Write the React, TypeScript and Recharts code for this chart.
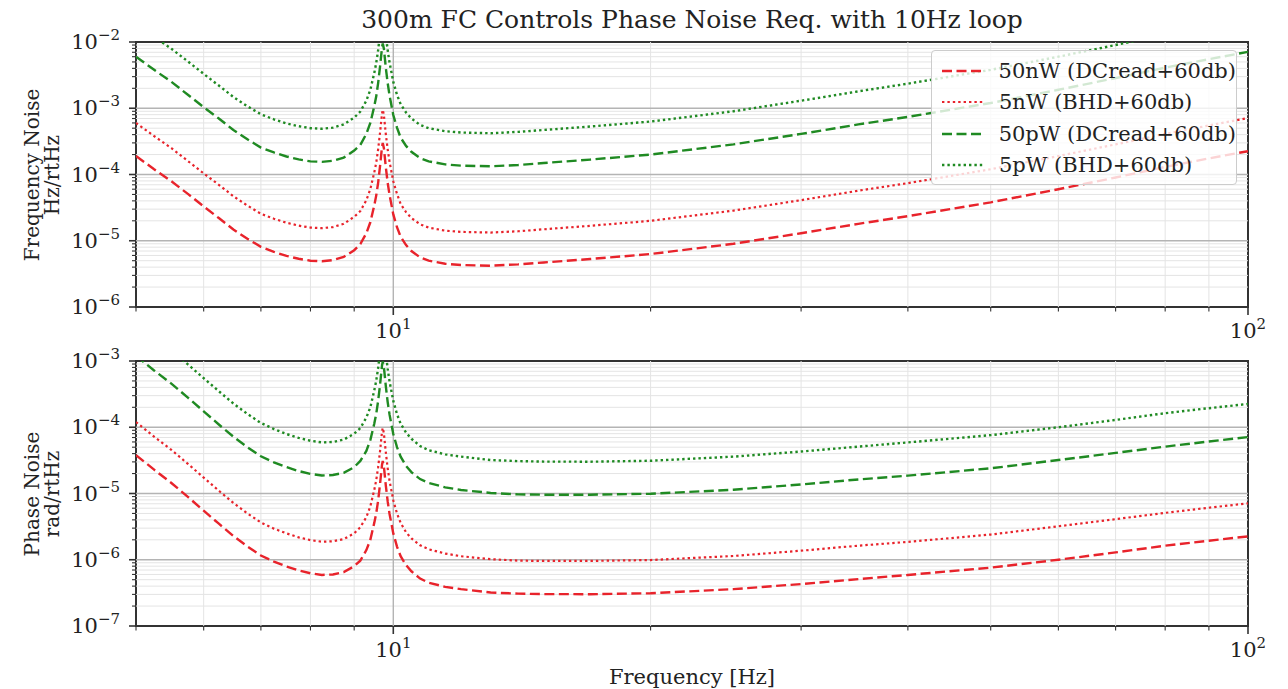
import { LineChart, Line, XAxis, YAxis, ReferenceLine, ReferenceArea, Legend } from 'recharts'

const FONT = "'DejaVu Serif', serif"
const RED = '#e8232b'
const GREEN = '#1f8a22'

// frequency points [Hz]
const freq = [
  5, 5.25, 5.5, 5.75, 6, 6.25, 6.5, 6.75, 7, 7.25,
  7.5, 7.75, 8, 8.25, 8.5, 8.75, 9, 9.15, 9.3, 9.4,
  9.5, 9.55, 9.6, 9.65, 9.7, 9.72, 9.75, 9.8, 9.85, 9.9,
  10, 10.1, 10.2, 10.35, 10.5, 10.75, 11, 11.5, 12, 13,
  14, 15, 17, 20, 25, 30, 35, 40, 50, 60,
  70, 80, 90, 100
]

// frequency noise [Hz/rtHz]
const fn50nW = [
  1.9e-4, 1.2e-4, 7.9e-5, 5.1e-5, 3.3e-5, 2.2e-5, 1.48e-5, 1.07e-5, 8.1e-6, 6.8e-6,
  5.9e-6, 5.35e-6, 5.0e-6, 4.9e-6, 5.1e-6, 5.7e-6, 7.2e-6, 8.9e-6, 1.3e-5, 1.9e-5,
  3.4e-5, 4.8e-5, 7.5e-5, 1.35e-4, 2.6e-4, 3.0e-4, 2.5e-4, 1.3e-4, 7.5e-5, 4.9e-5,
  2.5e-5, 1.6e-5, 1.15e-5, 8.6e-6, 7.0e-6, 5.6e-6, 5.0e-6, 4.5e-6, 4.3e-6, 4.2e-6,
  4.4e-6, 4.7e-6, 5.3e-6, 6.3e-6, 9.0e-6, 1.3e-5, 1.8e-5, 2.35e-5, 3.8e-5, 6.0e-5,
  9.0e-5, 1.3e-4, 1.75e-4, 2.25e-4
]
const fn5nW = [
  6.0e-4, 3.8e-4, 2.5e-4, 1.6e-4, 1.04e-4, 7.0e-5, 4.7e-5, 3.4e-5, 2.55e-5, 2.15e-5,
  1.87e-5, 1.69e-5, 1.58e-5, 1.55e-5, 1.61e-5, 1.8e-5, 2.3e-5, 2.8e-5, 4.1e-5, 6.0e-5,
  1.07e-4, 1.5e-4, 2.4e-4, 4.3e-4, 8.2e-4, 9.5e-4, 7.9e-4, 4.1e-4, 2.4e-4, 1.55e-4,
  7.9e-5, 5.1e-5, 3.6e-5, 2.7e-5, 2.2e-5, 1.77e-5, 1.58e-5, 1.42e-5, 1.36e-5, 1.33e-5,
  1.39e-5, 1.49e-5, 1.68e-5, 2.0e-5, 2.85e-5, 4.1e-5, 5.7e-5, 7.4e-5, 1.2e-4, 1.9e-4,
  2.85e-4, 4.1e-4, 5.5e-4, 7.1e-4
]
const fn50pW = [
  6.0e-3, 3.8e-3, 2.5e-3, 1.6e-3, 1.04e-3, 7.0e-4, 4.7e-4, 3.4e-4, 2.55e-4, 2.15e-4,
  1.87e-4, 1.69e-4, 1.58e-4, 1.55e-4, 1.61e-4, 1.8e-4, 2.3e-4, 2.8e-4, 4.1e-4, 6.0e-4,
  1.07e-3, 1.5e-3, 2.4e-3, 4.3e-3, 8.2e-3, 9.5e-3, 7.9e-3, 4.1e-3, 2.4e-3, 1.55e-3,
  7.9e-4, 5.1e-4, 3.6e-4, 2.7e-4, 2.2e-4, 1.77e-4, 1.58e-4, 1.42e-4, 1.36e-4, 1.33e-4,
  1.39e-4, 1.49e-4, 1.68e-4, 2.0e-4, 2.85e-4, 4.1e-4, 5.7e-4, 7.4e-4, 1.2e-3, 1.9e-3,
  2.85e-3, 4.1e-3, 5.5e-3, 7.1e-3
]
const fn5pW = [
  1.9e-2, 1.2e-2, 7.9e-3, 5.1e-3, 3.3e-3, 2.2e-3, 1.48e-3, 1.07e-3, 8.1e-4, 6.8e-4,
  5.9e-4, 5.35e-4, 5.0e-4, 4.9e-4, 5.1e-4, 5.7e-4, 7.2e-4, 8.9e-4, 1.3e-3, 1.9e-3,
  3.4e-3, 4.8e-3, 7.5e-3, 1.35e-2, 2.6e-2, 3.0e-2, 2.5e-2, 1.3e-2, 7.5e-3, 4.9e-3,
  2.5e-3, 1.6e-3, 1.15e-3, 8.6e-4, 7.0e-4, 5.6e-4, 5.0e-4, 4.5e-4, 4.3e-4, 4.2e-4,
  4.4e-4, 4.7e-4, 5.3e-4, 6.3e-4, 9.0e-4, 1.3e-3, 1.8e-3, 2.35e-3, 3.8e-3, 6.0e-3,
  9.0e-3, 1.3e-2, 1.75e-2, 2.25e-2
]

// phase noise [rad/rtHz]
const pn50nW = [
  3.8e-5, 2.29e-5, 1.44e-5, 8.9e-6, 5.5e-6, 3.5e-6, 2.28e-6, 1.59e-6, 1.16e-6, 9.4e-7,
  7.9e-7, 6.9e-7, 6.25e-7, 5.9e-7, 6.0e-7, 6.5e-7, 8.0e-7, 9.7e-7, 1.4e-6, 2.0e-6,
  3.6e-6, 5.0e-6, 7.8e-6, 1.4e-5, 2.7e-5, 3.1e-5, 2.56e-5, 1.33e-5, 7.6e-6, 4.9e-6,
  2.5e-6, 1.58e-6, 1.13e-6, 8.3e-7, 6.7e-7, 5.2e-7, 4.5e-7, 3.9e-7, 3.6e-7, 3.2e-7,
  3.08e-7, 3.03e-7, 3.02e-7, 3.12e-7, 3.6e-7, 4.3e-7, 5.1e-7, 5.9e-7, 7.6e-7, 1.0e-6,
  1.29e-6, 1.63e-6, 1.94e-6, 2.25e-6
]
const pn5nW = [
  1.2e-4, 7.2e-5, 4.55e-5, 2.8e-5, 1.74e-5, 1.1e-5, 7.2e-6, 5.0e-6, 3.65e-6, 2.95e-6,
  2.5e-6, 2.18e-6, 1.98e-6, 1.87e-6, 1.9e-6, 2.05e-6, 2.5e-6, 3.1e-6, 4.4e-6, 6.4e-6,
  1.13e-5, 1.58e-5, 2.5e-5, 4.4e-5, 8.5e-5, 9.8e-5, 8.1e-5, 4.2e-5, 2.4e-5, 1.55e-5,
  7.9e-6, 5.0e-6, 3.6e-6, 2.6e-6, 2.1e-6, 1.65e-6, 1.44e-6, 1.24e-6, 1.13e-6, 1.02e-6,
  9.7e-7, 9.6e-7, 9.6e-7, 9.9e-7, 1.14e-6, 1.37e-6, 1.63e-6, 1.86e-6, 2.4e-6, 3.2e-6,
  4.1e-6, 5.1e-6, 6.1e-6, 7.1e-6
]
const pn50pW = [
  1.2e-3, 7.2e-4, 4.55e-4, 2.8e-4, 1.74e-4, 1.1e-4, 7.2e-5, 5.0e-5, 3.65e-5, 2.95e-5,
  2.5e-5, 2.18e-5, 1.98e-5, 1.87e-5, 1.9e-5, 2.05e-5, 2.5e-5, 3.1e-5, 4.4e-5, 6.4e-5,
  1.13e-4, 1.58e-4, 2.5e-4, 4.4e-4, 8.5e-4, 9.8e-4, 8.1e-4, 4.2e-4, 2.4e-4, 1.55e-4,
  7.9e-5, 5.0e-5, 3.6e-5, 2.6e-5, 2.1e-5, 1.65e-5, 1.44e-5, 1.24e-5, 1.13e-5, 1.02e-5,
  9.7e-6, 9.6e-6, 9.6e-6, 9.9e-6, 1.14e-5, 1.37e-5, 1.63e-5, 1.86e-5, 2.4e-5, 3.2e-5,
  4.1e-5, 5.1e-5, 6.1e-5, 7.1e-5
]
const pn5pW = [
  3.8e-3, 2.29e-3, 1.44e-3, 8.9e-4, 5.5e-4, 3.5e-4, 2.28e-4, 1.59e-4, 1.16e-4, 9.4e-5,
  7.9e-5, 6.9e-5, 6.25e-5, 5.9e-5, 6.0e-5, 6.5e-5, 8.0e-5, 9.7e-5, 1.4e-4, 2.0e-4,
  3.6e-4, 5.0e-4, 7.8e-4, 1.4e-3, 2.7e-3, 3.1e-3, 2.56e-3, 1.33e-3, 7.6e-4, 4.9e-4,
  2.5e-4, 1.58e-4, 1.13e-4, 8.3e-5, 6.7e-5, 5.2e-5, 4.5e-5, 3.9e-5, 3.6e-5, 3.2e-5,
  3.08e-5, 3.03e-5, 3.02e-5, 3.12e-5, 3.6e-5, 4.3e-5, 5.1e-5, 5.9e-5, 7.6e-5, 1.0e-4,
  1.29e-4, 1.63e-4, 1.94e-4, 2.25e-4
]

// axes
const xTicks = [5, 6, 7, 8, 9, 10, 20, 30, 40, 50, 60, 70, 80, 90, 100]
const xMinorGrid = [6, 7, 8, 9, 20, 30, 40, 50, 60, 70, 80, 90]
const xMajorGrid = [10]
const minorSteps = [2, 3, 4, 5, 6, 7, 8, 9]
const topDecades = [1e-6, 1e-5, 1e-4, 1e-3, 1e-2]
const bottomDecades = [1e-7, 1e-6, 1e-5, 1e-4, 1e-3]

const series = [
  { key: 'a', name: '50nW (DCread+60db)', color: RED, dash: '10 4.5', width: 2.4 },
  { key: 'b', name: '5nW (BHD+60db)', color: RED, dash: '2.4 3', width: 2.2 },
  { key: 'c', name: '50pW (DCread+60db)', color: GREEN, dash: '10 4.5', width: 2.4 },
  { key: 'd', name: '5pW (BHD+60db)', color: GREEN, dash: '2.4 3', width: 2.4 }
]

const topData = freq.map((f, i) => ({ f, a: fn50nW[i], b: fn5nW[i], c: fn50pW[i], d: fn5pW[i] }))
const bottomData = freq.map((f, i) => ({ f, a: pn50nW[i], b: pn5nW[i], c: pn50pW[i], d: pn5pW[i] }))

const isDecade = (v: number) => Math.abs(Math.log10(v) - Math.round(Math.log10(v))) < 1e-6
const expText = (v: number) => {
  const e = Math.round(Math.log10(v))
  return e < 0 ? '\u2212' + -e : String(e)
}

const YTick = (props: any) => {
  const { x, y, payload } = props
  const major = isDecade(payload.value)
  return (
    <g>
      <line x1={x} x2={x - (major ? 7 : 4)} y1={y} y2={y} stroke='#333' strokeWidth={major ? 1.6 : 1.1} />
      {major && (
        <text x={x - 16} y={y + 7} textAnchor='end' fontFamily={FONT} fontSize={21} fill='#222'>
          10<tspan dy={-9} fontSize={15}>{expText(payload.value)}</tspan>
        </text>
      )}
    </g>
  )
}

const XTick = (props: any) => {
  const { x, y, payload } = props
  const major = isDecade(payload.value)
  return (
    <g>
      <line x1={x} x2={x} y1={y} y2={y + (major ? 8 : 4.5)} stroke='#333' strokeWidth={major ? 1.6 : 1.1} />
      {major && (
        <text x={x} y={y + 31} textAnchor='middle' fontFamily={FONT} fontSize={21} fill='#222'>
          10<tspan dy={-9} fontSize={15}>{expText(payload.value)}</tspan>
        </text>
      )}
    </g>
  )
}

const LegendBox = () => (
  <div style={{
    background: 'rgba(255,255,255,0.8)', border: '1px solid #cccccc', borderRadius: 4,
    boxSizing: 'border-box', width: 306, height: 135, paddingTop: 4,
    fontFamily: FONT, fontSize: 21, color: '#222'
  }}>
    {series.map(s => (
      <div key={s.key} style={{ display: 'flex', alignItems: 'center', height: 31.5 }}>
        <svg width={46} height={10} style={{ marginLeft: 8 }}>
          <line x1={2} x2={44} y1={5} y2={5} stroke={s.color} strokeWidth={s.width} strokeDasharray={s.dash} />
        </svg>
        <span style={{ marginLeft: 13, whiteSpace: 'nowrap' }}>{s.name}</span>
      </div>
    ))}
  </div>
)

function Panel ({ data, decades, top, showLegend }: any) {
  const yMin = decades[0]
  const yMax = decades[decades.length - 1]
  const yMinor = decades.slice(0, -1).flatMap((d: number) => minorSteps.map(m => m * d))
  const yMajorGrid = decades.slice(1, -1)
  const yTicks = [...decades, ...yMinor].sort((p, q) => p - q)
  return (
    <div style={{ position: 'absolute', left: 0, top }}>
      <LineChart width={1288} height={345} data={data} margin={{ top: 42, right: 40, bottom: 0, left: 56 }}>
        {xMinorGrid.map(v => <ReferenceLine key={'xm' + v} x={v} stroke='#e4e4e4' strokeWidth={1} />)}
        {yMinor.map((v: number) => <ReferenceLine key={'ym' + v} y={v} stroke='#e4e4e4' strokeWidth={1} />)}
        {xMajorGrid.map(v => <ReferenceLine key={'xM' + v} x={v} stroke='#b4b4b4' strokeWidth={1.4} />)}
        {yMajorGrid.map((v: number) => <ReferenceLine key={'yM' + v} y={v} stroke='#b4b4b4' strokeWidth={1.4} />)}
        <XAxis
          dataKey='f' type='number' scale='log' domain={[5, 100]} allowDataOverflow
          ticks={xTicks} interval={0} tick={(p: any) => <XTick {...p} />}
          tickLine={false} axisLine={false} tickSize={0} tickMargin={0} height={38}
        />
        <YAxis
          type='number' scale='log' domain={[yMin, yMax]} allowDataOverflow
          ticks={yTicks} interval={0} tick={(p: any) => <YTick {...p} />}
          tickLine={false} axisLine={false} tickSize={0} tickMargin={0} width={80}
        />
        {series.map(s => (
          <Line
            key={s.key} dataKey={s.key} name={s.name} type='linear' stroke={s.color}
            strokeWidth={s.width} strokeDasharray={s.dash} dot={false} activeDot={false}
            isAnimationActive={false}
          />
        ))}
        <ReferenceArea x1={5} x2={100} y1={yMin} y2={yMax} fill='none' stroke='#333' strokeWidth={2} />
        {showLegend && (
          <Legend
            layout='vertical' align='center' verticalAlign='middle'
            wrapperStyle={{ position: 'absolute', left: 931, top: 50, width: 306, height: 135 }}
            content={() => <LegendBox />}
          />
        )}
      </LineChart>
    </div>
  )
}

const YLabel = ({ lines, cy }: any) => (
  <div style={{
    position: 'absolute', left: 42 - 150, top: cy - 20, width: 300, height: 40,
    transform: 'rotate(-90deg)', textAlign: 'center', fontFamily: FONT, fontSize: 20,
    lineHeight: '20px', color: '#222'
  }}>
    {lines.map((l: string) => <div key={l}>{l}</div>)}
  </div>
)

export default function App () {
  return (
    <div style={{ position: 'absolute', left: 0, top: 0, width: 1288, height: 689, background: '#fff', overflow: 'hidden' }}>
      <div style={{
        position: 'absolute', left: 136, top: 5, width: 1112, textAlign: 'center',
        fontFamily: FONT, fontSize: 25, lineHeight: '30px', color: '#222', whiteSpace: 'nowrap'
      }}>
        300m FC Controls Phase Noise Req. with 10Hz loop
      </div>
      <Panel data={topData} decades={topDecades} top={0} showLegend />
      <Panel data={bottomData} decades={bottomDecades} top={319} showLegend={false} />
      <YLabel lines={['Frequency Noise', 'Hz/rtHz']} cy={175} />
      <YLabel lines={['Phase Noise', 'rad/rtHz']} cy={494} />
      <div style={{
        position: 'absolute', left: 136, top: 664, width: 1112, textAlign: 'center',
        fontFamily: FONT, fontSize: 21, lineHeight: '26px', color: '#222'
      }}>
        Frequency [Hz]
      </div>
    </div>
  )
}
